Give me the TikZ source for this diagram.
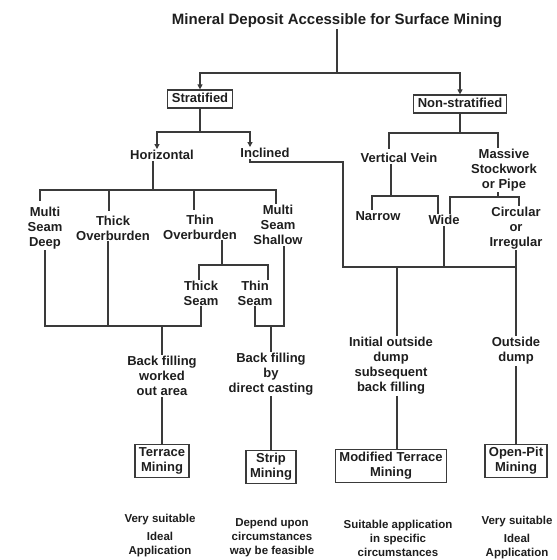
\documentclass[tikz,border=0pt]{standalone}
\usepackage{fontspec}
\setmainfont{Liberation Sans}
\usetikzlibrary{positioning, arrows.meta}
\definecolor{ink}{HTML}{1E1E1E}
\definecolor{rope}{HTML}{3A3A3A}

\begin{document}
\begin{tikzpicture}[x=1pt, y=-1pt,
      lbl/.style={text=ink, align=center, inner sep=1pt,
        font=\fontsize{13}{15}\selectfont\bfseries},
      box/.style={lbl, draw=rope, line width=1.2pt, inner xsep=4pt, inner ysep=3pt},
      single/.style={text height=9.5pt, text depth=2.5pt},
      note/.style={text=ink, align=center, inner sep=1pt,
        font=\fontsize{11.5}{14}\selectfont\bfseries},
      ast/.style={draw=rope, line width=1.1pt},
      pfeil/.style={ast, -{Triangle[length=5pt, width=5pt]}}]
    \useasboundingbox (0,0) rectangle (557,560);
    \node[lbl, font=\fontsize{15}{18}\selectfont\bfseries] (title) at (337,21)
      {Mineral Deposit Accessible for Surface Mining};
    \node[box, single] (strat) at (200,99) {Stratified};
    \node[box, single] (nonstrat) at (460,104) {Non-stratified};
    \node[lbl] (horiz) at (162,155) {Horizontal};
    \node[lbl] (incl) at (265,153) {Inclined};
    \node[lbl] (vvein) at (399,158) {Vertical Vein};
    \node[lbl] (massive) at (504,170) {Massive\\Stockwork\\or Pipe};
    \node[lbl] (mdeep) at (45,228) {Multi\\Seam\\Deep};
    \node[lbl] (thickob) at (113,228) {Thick\\Overburden};
    \node[lbl] (thinob) at (200,227) {Thin\\Overburden};
    \node[lbl] (mshallow) at (278,225) {Multi\\Seam\\Shallow};
    \node[lbl] (narrow) at (378,216) {Narrow};
    \node[lbl] (wide) at (444,220) {Wide};
    \node[lbl] (circ) at (516,228) {Circular\\or\\Irregular};
    \node[lbl] (thickseam) at (201,293) {Thick\\Seam};
    \node[lbl] (thinseam) at (255,293) {Thin\\Seam};
    \node[lbl] (bfworked) at (162,376) {Back filling\\worked\\out area};
    \node[lbl] (bfcast) at (271,374) {Back filling\\by\\direct casting};
    \node[lbl] (initial) at (391,366) {Initial outside\\dump\\subsequent\\back filling};
    \node[lbl] (outside) at (516,351) {Outside\\dump};
    \node[box] (terrace) at (162,461) {Terrace\\Mining};
    \node[box] (strip) at (271,467) {Strip\\Mining};
    \node[box] (modter) at (391,466) {Modified Terrace\\Mining};
    \node[box] (openpit) at (516,461) {Open-Pit\\Mining};
    \node[note] (vsterrace) at (160,536) {Very suitable\\[4pt]Ideal\\Application};
    \node[note] (depend) at (272,538) {Depend upon\\circumstances\\way be feasible};
    \node[note] (suitable) at (398,538) {Suitable application\\in specific\\circumstances};
    \node[note] (vspit) at (517,538) {Very suitable\\[4pt]Ideal\\Application};
    % forks
    \coordinate (f0) at (337,73);
    \coordinate (f1) at (200,132);
    \coordinate (f2) at (460,133);
    \coordinate (f3) at (391,196);
    \coordinate (f4) at (498,197);
    \coordinate (f5) at (343,267);
    \coordinate (f6) at (397,267);
    \coordinate (f7) at (153,190);
    \coordinate (f8) at (222,265);
    \coordinate (f9) at (162,326);
    \coordinate (f10) at (271,326);
    \draw[ast] (title.south) -- (f0);
    \draw[pfeil] (f0) -| (strat.north);
    \draw[pfeil] (f0) -| (nonstrat.north);
    \draw[ast] (strat.south) -- (f1);
    \draw[pfeil] (f1) -| ([xshift=-5pt]horiz.north);
    \draw[pfeil] (f1) -| ([xshift=-15pt]incl.north);
    \draw[ast] (nonstrat.south) -- (f2);
    \draw[ast, shorten >=3pt] (f2) -| ([xshift=-10pt]vvein.north);
    \draw[ast] (f2) -| ([xshift=-6pt]massive.north);
    \draw[ast] ([xshift=-8pt]vvein.south) -- (f3);
    \draw[ast] (f3) -| ([xshift=-6pt]narrow.north);
    \draw[ast] (f3) -| ([xshift=-6pt]wide.north);
    \draw[ast] ([xshift=-6pt]massive.south) -- (f4);
    \draw[ast] (f4) -| ([xshift=6pt]wide.north);
    \draw[ast] (f4) -| ([xshift=3pt]circ.north);
    \draw[ast] ([xshift=-15pt]incl.south) -- ++(0,3) -| (f5) -- (circ.south |- f5);
    \draw[ast] (wide.south) -- (wide.south |- f5);
    \draw[ast] (circ.south) -- (outside.north);
    \draw[ast] (f6) -- (f6 |- initial.north);
    \draw[ast] (f7 |- horiz.south) -- (f7);
    \draw[ast, shorten >=5pt] (f7) -| ([xshift=-5pt]mdeep.north);
    \draw[ast, shorten >=4pt] (f7) -| ([xshift=-4pt]thickob.north);
    \draw[ast, shorten >=4pt] (f7) -| ([xshift=-6pt]thinob.north);
    \draw[ast] (f7) -| ([xshift=-2pt]mshallow.north);
    \draw[ast] (f8 |- thinob.south) -- (f8);
    \draw[ast] (f8) -| ([xshift=-2pt]thickseam.north);
    \draw[ast] (f8) -| ([xshift=13pt]thinseam.north);
    \draw[ast] (mdeep.south) |- (thickseam.south |- f9) -- (thickseam.south);
    \draw[ast] ([xshift=-5pt]thickob.south) -- ([xshift=-5pt]thickob.south |- f9);
    \draw[ast] (f9) -- (bfworked.north);
    \draw[ast] (thinseam.south) |- ([xshift=6pt]mshallow.south |- f10) -- ([xshift=6pt]mshallow.south);
    \draw[ast] (f10) -- (bfcast.north);
    \draw[ast] (bfworked.south) -- (terrace.north);
    \draw[ast] (bfcast.south) -- (strip.north);
    \draw[ast] (f6 |- initial.south) -- (f6 |- modter.north);
    \draw[ast] (outside.south) -- (openpit.north);
  \end{tikzpicture}
\end{document}
